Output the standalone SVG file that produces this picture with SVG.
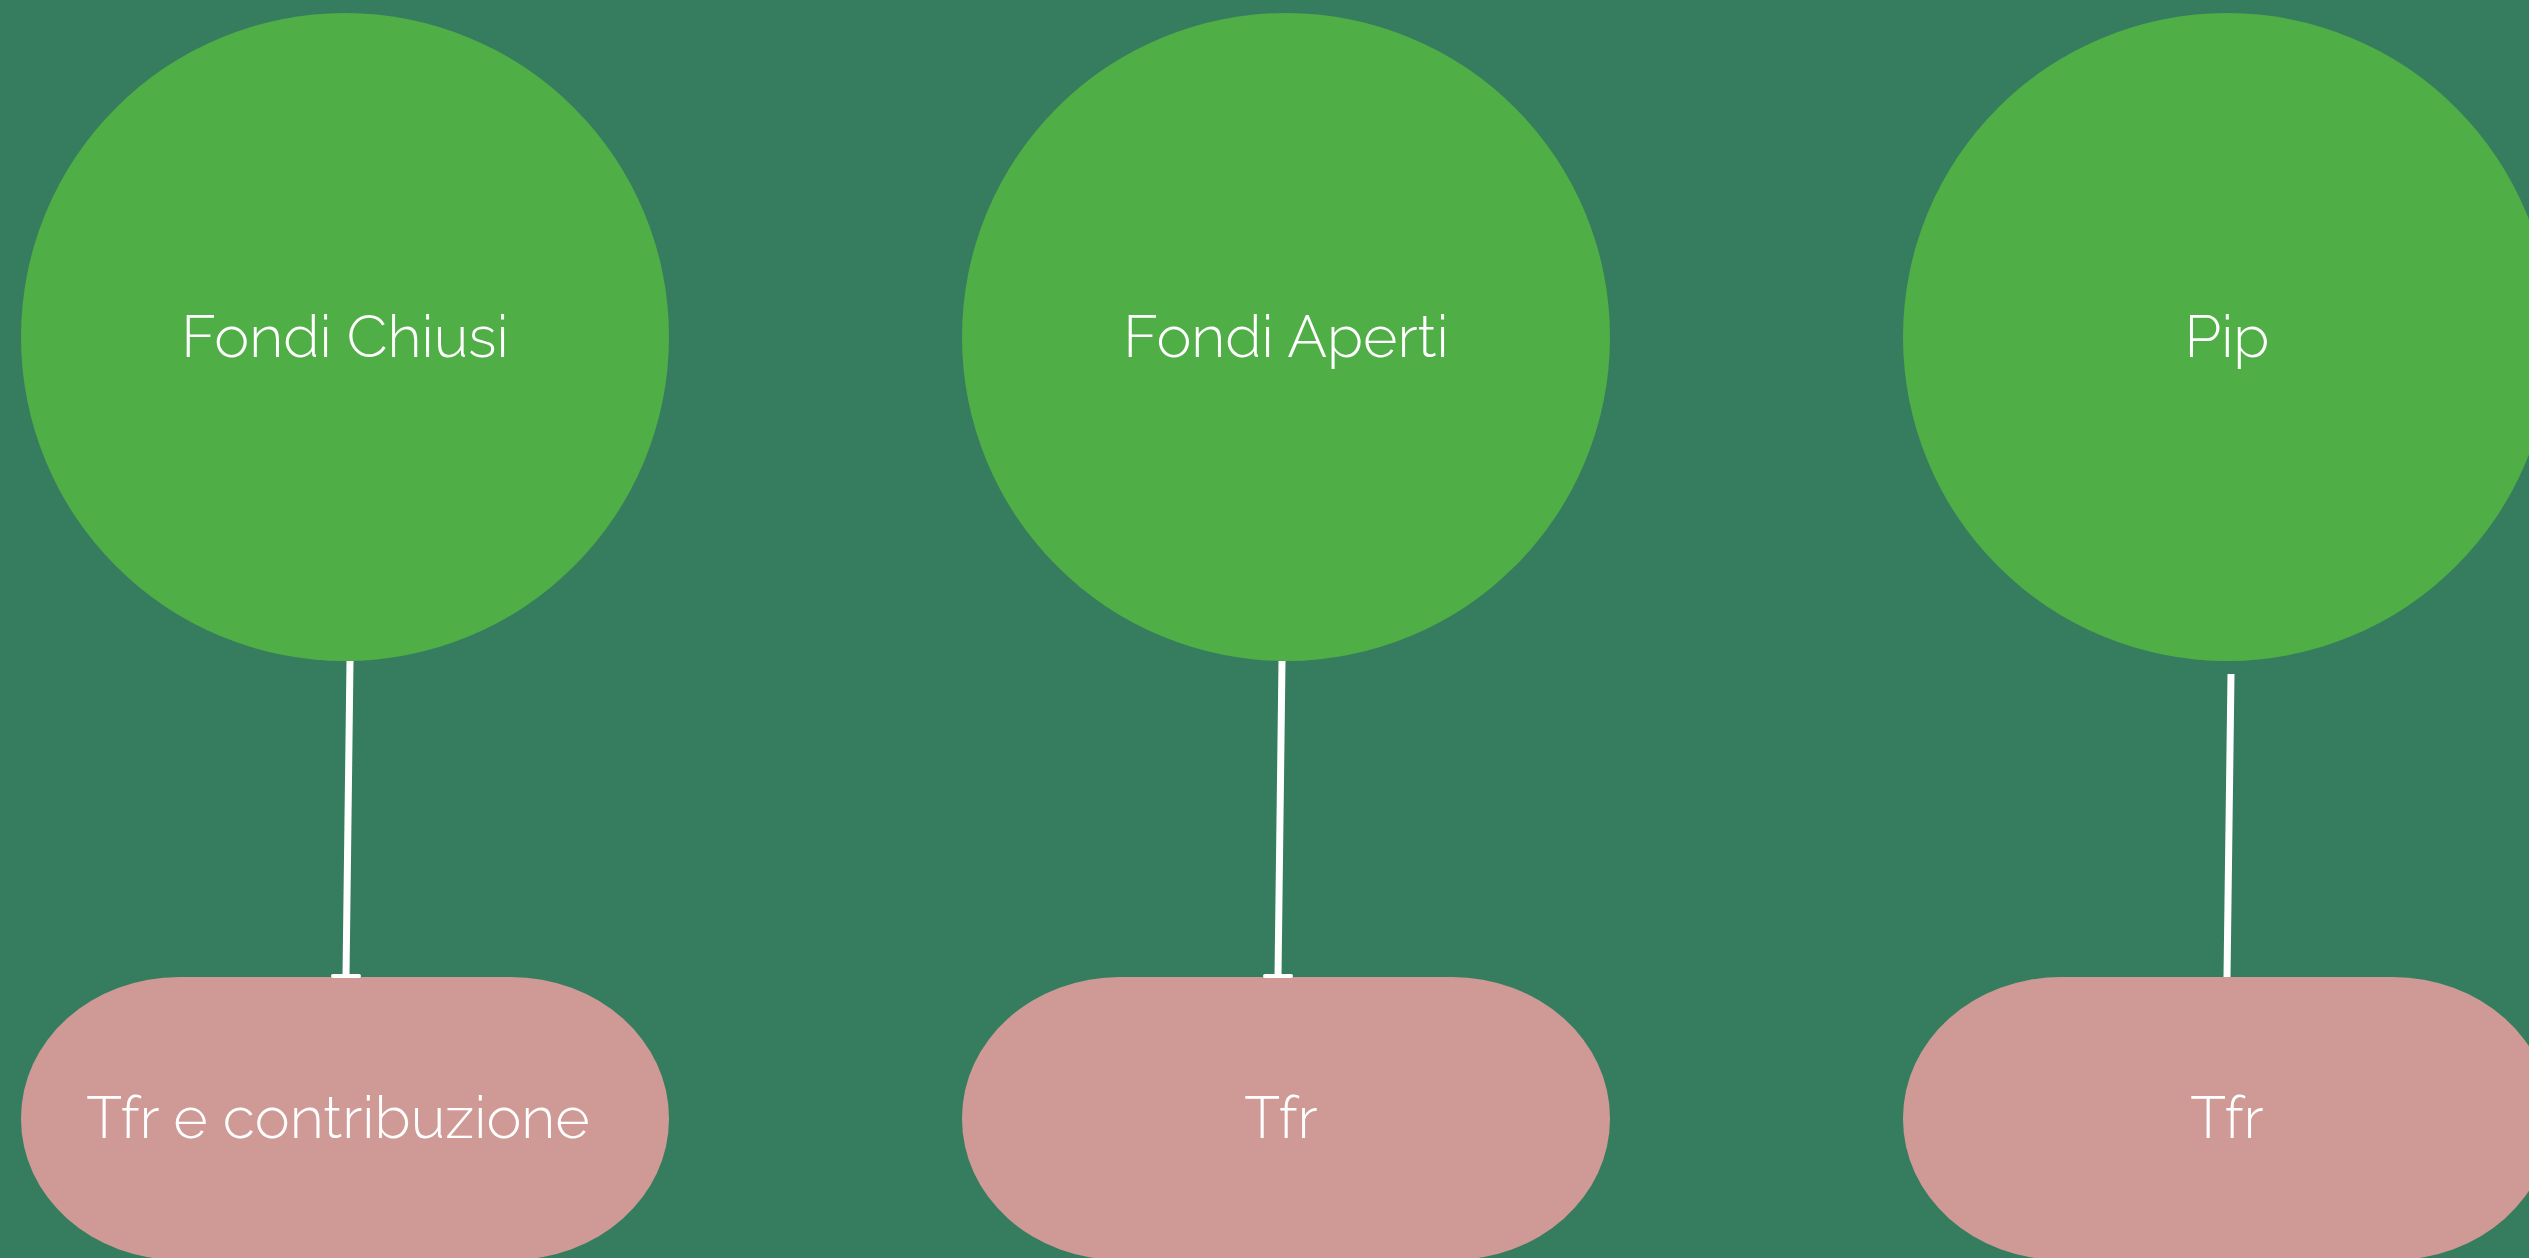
<svg xmlns="http://www.w3.org/2000/svg" width="2529" height="1258" viewBox="0 0 2529 1258">
<style>
.circle{fill:#50ae46}
.pill{fill:#cf9a95}
.lbl{fill:#ffffff;font-family:Raleway,"Lato","Open Sans","Liberation Sans",sans-serif;font-weight:300;font-size:59px;text-anchor:middle}
.conn{stroke:#ffffff;stroke-width:7;fill:none}
.bar{fill:#ffffff}
</style>
<rect width="2529" height="1258" fill="#367d5f"/>
<g id="node-fondi-chiusi"><circle class="circle" cx="345" cy="337" r="324"/><text class="lbl" x="345" y="357">Fondi Chiusi</text></g>
<g id="node-fondi-aperti"><circle class="circle" cx="1286" cy="337" r="324"/><text class="lbl" x="1286" y="357">Fondi Aperti</text></g>
<g id="node-pip"><circle class="circle" cx="2227" cy="337" r="324"/><text class="lbl" x="2227" y="357">Pip</text></g>
<g id="node-tfr-contribuzione"><rect class="pill" x="21" y="977" width="648" height="283" rx="158" ry="141"/><text class="lbl" x="338" y="1138">Tfr e contribuzione</text></g>
<g id="node-tfr-1"><rect class="pill" x="962" y="977" width="648" height="283" rx="158" ry="141"/><text class="lbl" x="1281" y="1138">Tfr</text></g>
<g id="node-tfr-2"><rect class="pill" x="1903" y="977" width="648" height="283" rx="158" ry="141"/><text class="lbl" x="2227" y="1138">Tfr</text></g>
<g id="connectors">
<line class="conn" x1="350" y1="661" x2="346" y2="976"/>
<rect class="bar" x="331" y="974" width="30" height="4" rx="2"/>
<line class="conn" x1="1282" y1="661" x2="1278" y2="976"/>
<rect class="bar" x="1263" y="974" width="30" height="4" rx="2"/>
<line class="conn" x1="2231" y1="674" x2="2227" y2="977"/>
</g>
</svg>
